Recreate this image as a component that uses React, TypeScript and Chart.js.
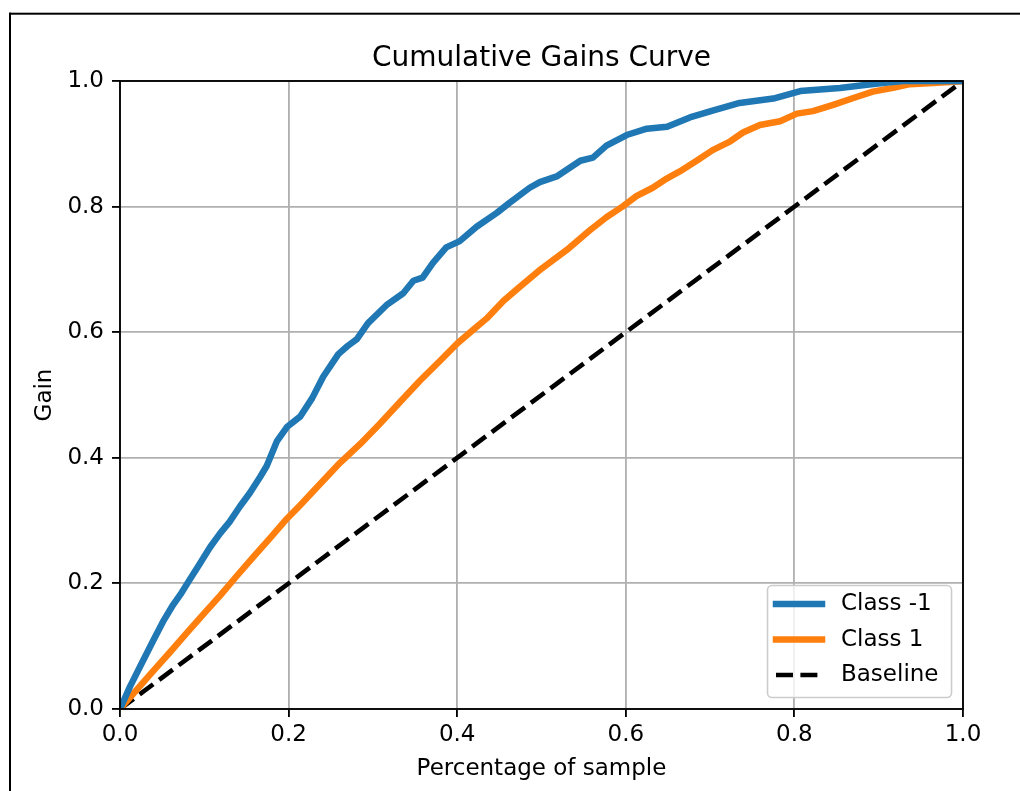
import React, { useEffect, useRef } from "react";
import { Chart, registerables } from "chart.js";

Chart.register(...registerables);

// ---- data ----
const classNeg1X = [0, 0.012, 0.024, 0.039, 0.051, 0.063, 0.073, 0.079, 0.095, 0.107, 0.119, 0.13, 0.142, 0.154, 0.166, 0.174, 0.186, 0.198, 0.214, 0.228, 0.241, 0.259, 0.27, 0.281, 0.294, 0.316, 0.336, 0.348, 0.359, 0.371, 0.387, 0.403, 0.423, 0.447, 0.462, 0.486, 0.498, 0.518, 0.546, 0.561, 0.577, 0.601, 0.625, 0.649, 0.676, 0.703, 0.735, 0.775, 0.791, 0.807, 0.854, 0.886, 0.913, 0.929, 1.0];
const classNeg1Y = [0, 0.036, 0.068, 0.108, 0.139, 0.166, 0.185, 0.198, 0.232, 0.258, 0.28, 0.298, 0.322, 0.344, 0.369, 0.387, 0.426, 0.449, 0.466, 0.495, 0.529, 0.565, 0.578, 0.589, 0.614, 0.643, 0.662, 0.682, 0.687, 0.71, 0.735, 0.745, 0.768, 0.79, 0.806, 0.83, 0.839, 0.848, 0.873, 0.878, 0.897, 0.914, 0.924, 0.927, 0.942, 0.953, 0.965, 0.972, 0.978, 0.984, 0.989, 0.994, 0.998, 1.0, 1.0];

const class1X = [0, 0.02, 0.039, 0.059, 0.079, 0.099, 0.119, 0.138, 0.158, 0.178, 0.198, 0.214, 0.237, 0.261, 0.285, 0.308, 0.333, 0.356, 0.38, 0.4, 0.419, 0.435, 0.455, 0.474, 0.497, 0.53, 0.557, 0.577, 0.596, 0.613, 0.632, 0.649, 0.664, 0.684, 0.703, 0.724, 0.739, 0.759, 0.783, 0.803, 0.822, 0.846, 0.87, 0.893, 0.917, 0.937, 0.964, 0.996, 1.0];
const class1Y = [0, 0.031, 0.06, 0.09, 0.121, 0.151, 0.181, 0.211, 0.242, 0.272, 0.303, 0.325, 0.358, 0.392, 0.422, 0.454, 0.49, 0.523, 0.555, 0.582, 0.604, 0.622, 0.65, 0.672, 0.698, 0.731, 0.762, 0.783, 0.8, 0.817, 0.83, 0.845, 0.856, 0.873, 0.89, 0.904, 0.918, 0.93, 0.936, 0.948, 0.952, 0.962, 0.973, 0.983, 0.989, 0.995, 0.997, 0.999, 1.0];

const baselineX = [0, 1];
const baselineY = [0, 1];

const seriesLabels = ["Class -1", "Class 1", "Baseline"];
const seriesColors = ["#1f77b4", "#ff7f0e", "#000000"];

const xTicks = [0, 0.2, 0.4, 0.6, 0.8, 1.0];
const yTicks = [0, 0.2, 0.4, 0.6, 0.8, 1.0];

const titleText = "Cumulative Gains Curve";
const xTitleText = "Percentage of sample";
const yTitleText = "Gain";

// ---- styling ----
const FONT = "'DejaVu Sans', sans-serif";
const FS = 23;
const LW = 1.84;

const toPoints = (xs: number[], ys: number[]) => xs.map((x, i) => ({ x, y: ys[i] }));

const figureBorder = {
  id: "figureBorder",
  beforeDraw(chart: any) {
    const ctx = chart.ctx;
    ctx.save();
    ctx.fillStyle = "#ffffff";
    ctx.fillRect(0, 0, chart.width, chart.height);
    ctx.fillStyle = "#000000";
    ctx.fillRect(9, 12.7, chart.width - 9, 2);
    ctx.fillRect(9, 12.7, 2, chart.height - 12.7);
    ctx.restore();
  },
};

const axesFrameAndLegend = {
  id: "axesFrameAndLegend",
  afterDatasetsDraw(chart: any) {
    const ctx = chart.ctx;
    const { left, top, right, bottom } = chart.chartArea;
    ctx.save();
    ctx.strokeStyle = "#000000";
    ctx.lineWidth = LW;
    ctx.strokeRect(left, top, right - left, bottom - top);

    // legend (matplotlib style, lower right)
    const boxW = 184;
    const boxH = 112;
    const bx = right - 11.5 - boxW;
    const by = bottom - 11.5 - boxH;
    const r = 4.6;
    ctx.beginPath();
    ctx.moveTo(bx + r, by);
    ctx.lineTo(bx + boxW - r, by);
    ctx.arcTo(bx + boxW, by, bx + boxW, by + r, r);
    ctx.lineTo(bx + boxW, by + boxH - r);
    ctx.arcTo(bx + boxW, by + boxH, bx + boxW - r, by + boxH, r);
    ctx.lineTo(bx + r, by + boxH);
    ctx.arcTo(bx, by + boxH, bx, by + boxH - r, r);
    ctx.lineTo(bx, by + r);
    ctx.arcTo(bx, by, bx + r, by, r);
    ctx.closePath();
    ctx.fillStyle = "rgba(255,255,255,0.8)";
    ctx.fill();
    ctx.strokeStyle = "#cccccc";
    ctx.lineWidth = 1.6;
    ctx.stroke();

    const datasets = chart.data.datasets;
    datasets.forEach((ds: any, i: number) => {
      const cy = by + 18.5 + i * 35.5;
      const hx0 = bx + 8.5;
      const hx1 = hx0 + 46;
      ctx.beginPath();
      ctx.strokeStyle = ds.borderColor;
      ctx.lineWidth = ds.borderWidth;
      if (ds.borderDash && ds.borderDash.length) {
        ctx.setLineDash(ds.borderDash);
        ctx.lineCap = "butt";
      } else {
        ctx.setLineDash([]);
        ctx.lineCap = "square";
      }
      ctx.moveTo(hx0, cy);
      ctx.lineTo(hx1, cy);
      ctx.stroke();
      ctx.setLineDash([]);
      ctx.fillStyle = "#000000";
      ctx.font = `${FS}px ${FONT}`;
      ctx.textAlign = "left";
      ctx.textBaseline = "middle";
      ctx.fillText(ds.label, bx + 73.5, cy + 0.5);
    });
    ctx.restore();
  },
};

export default function App() {
  const canvasRef = useRef<HTMLCanvasElement | null>(null);

  useEffect(() => {
    if (!canvasRef.current) return;
    const chart = new Chart(canvasRef.current, {
      type: "line",
      data: {
        datasets: [
          {
            label: seriesLabels[0],
            data: toPoints(classNeg1X, classNeg1Y),
            borderColor: seriesColors[0],
            backgroundColor: seriesColors[0],
            borderWidth: 6.5,
            pointRadius: 0,
            tension: 0,
            clip: 0,
            borderJoinStyle: "round",
            borderCapStyle: "butt",
          },
          {
            label: seriesLabels[1],
            data: toPoints(class1X, class1Y),
            borderColor: seriesColors[1],
            backgroundColor: seriesColors[1],
            borderWidth: 6.5,
            pointRadius: 0,
            tension: 0,
            clip: 0,
            borderJoinStyle: "round",
            borderCapStyle: "butt",
          },
          {
            label: seriesLabels[2],
            data: toPoints(baselineX, baselineY),
            borderColor: seriesColors[2],
            backgroundColor: seriesColors[2],
            borderWidth: 4.6,
            borderDash: [17, 7.4],
            pointRadius: 0,
            tension: 0,
            clip: 0,
          },
        ],
      } as any,
      options: {
        responsive: false,
        animation: false,
        devicePixelRatio: 1,
        events: [],
        layout: { padding: { left: 0, top: 0, right: 57, bottom: 0 } },
        plugins: {
          legend: { display: false },
          tooltip: { enabled: false },
          title: {
            display: true,
            text: titleText,
            fullSize: false,
            color: "#000000",
            font: { family: FONT, size: 28, weight: "normal", lineHeight: 1.2 },
            padding: { top: 41.5, bottom: 5.9 },
          },
        },
        scales: {
          x: {
            type: "linear",
            min: 0,
            max: 1,
            afterFit: (s: any) => {
              s.height = 82;
            },
            afterBuildTicks: (s: any) => {
              s.ticks = xTicks.map((v) => ({ value: v }));
            },
            ticks: {
              color: "#000000",
              font: { family: FONT, size: FS },
              padding: 4,
              maxRotation: 0,
              autoSkip: false,
              callback: (v: any) => Number(v).toFixed(1),
            },
            grid: {
              color: "#b0b0b0",
              lineWidth: LW,
              drawTicks: true,
              tickLength: 8,
              tickColor: "#000000",
              tickWidth: LW,
            },
            border: { display: false },
            title: {
              display: true,
              text: xTitleText,
              color: "#000000",
              font: { family: FONT, size: FS, lineHeight: 1.2 },
              padding: { top: 0, bottom: 8 },
            },
          },
          y: {
            type: "linear",
            min: 0,
            max: 1,
            afterFit: (s: any) => {
              s.width = 120;
            },
            afterBuildTicks: (s: any) => {
              s.ticks = yTicks.map((v) => ({ value: v }));
            },
            ticks: {
              color: "#000000",
              font: { family: FONT, size: FS },
              padding: 8,
              autoSkip: false,
              callback: (v: any) => Number(v).toFixed(1),
            },
            grid: {
              color: "#b0b0b0",
              lineWidth: LW,
              drawTicks: true,
              tickLength: 8,
              tickColor: "#000000",
              tickWidth: LW,
            },
            border: { display: false },
            title: {
              display: true,
              text: yTitleText,
              color: "#000000",
              font: { family: FONT, size: FS, lineHeight: 1.2 },
              padding: { top: 31, bottom: 0 },
            },
          },
        },
      } as any,
      plugins: [figureBorder, axesFrameAndLegend],
    });
    return () => chart.destroy();
  }, []);

  return (
    <div style={{ position: "absolute", left: 0, top: 0, width: 1020, height: 791 }}>
      <canvas ref={canvasRef} width={1020} height={791} style={{ display: "block" }} />
    </div>
  );
}
